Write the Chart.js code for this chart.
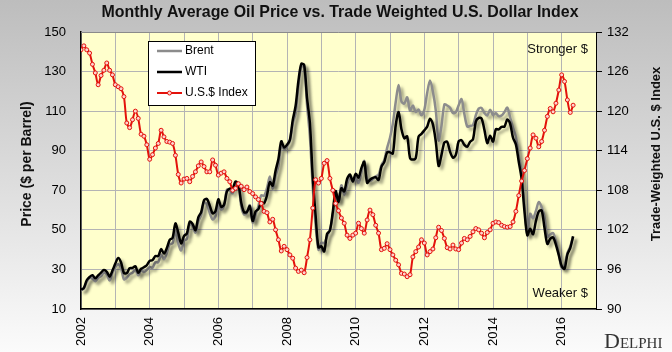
<!DOCTYPE html>
<html>
<head>
<meta charset="utf-8">
<script src="https://cdn.jsdelivr.net/npm/chart.js@4.4.1/dist/chart.umd.min.js"></script>
<style>
  html, body { margin: 0; padding: 0; background: #fff; }
  #wrap { width: 672px; height: 352px; }
</style>
</head>
<body>
<div id="wrap"><canvas id="oilChart" width="672" height="352"></canvas></div>
<script>
// months counted from Jan 2002, data runs to May 2016
const startYear = 2002;
const gridMonths = [0, 12, 24, 36, 48, 60, 72, 84, 96, 108, 120, 132, 144, 156, 168, 180];
const priceTicks = [10, 30, 50, 70, 90, 110, 130, 150];
const indexTicks = [90, 96, 102, 108, 114, 120, 126, 132];

const brent = [
  19.42, 20.28, 23.70, 25.73, 25.35, 24.08, 25.74, 26.65, 28.40, 27.54, 24.34, 28.33,
  31.18, 32.77, 30.61, 25.00, 25.86, 27.65, 28.35, 29.89, 27.11, 29.61, 28.75, 29.81,
  31.28, 30.86, 33.63, 33.59, 37.57, 35.18, 38.22, 42.74, 43.20, 49.78, 43.11, 39.60,
  44.51, 45.48, 53.10, 51.88, 48.65, 54.35, 57.52, 63.98, 62.91, 58.54, 55.24, 56.86,
  62.99, 60.21, 62.06, 70.26, 69.78, 68.56, 73.67, 73.23, 61.96, 57.81, 58.76, 62.47,
  53.68, 57.56, 62.05, 67.49, 67.21, 71.05, 76.93, 70.76, 77.17, 82.34, 92.41, 90.93,
  92.18, 94.99, 103.64, 109.07, 122.80, 132.32, 132.72, 113.24, 97.23, 71.58, 52.45, 39.95,
  43.44, 43.32, 46.54, 50.18, 57.30, 68.61, 64.44, 72.51, 67.65, 72.77, 76.66, 74.46,
  76.17, 73.75, 78.83, 84.82, 75.95, 74.76, 75.58, 77.04, 77.84, 82.67, 85.28, 91.45,
  96.52, 103.72, 114.64, 123.26, 114.99, 113.83, 116.97, 110.22, 112.83, 109.55, 110.77, 107.87,
  110.69, 119.33, 125.45, 119.75, 110.34, 95.16, 102.62, 113.36, 112.86, 111.71, 109.06, 109.49,
  112.96, 116.05, 108.47, 102.25, 102.56, 102.92, 107.93, 111.28, 111.60, 109.08, 107.79, 110.76,
  108.12, 108.90, 107.48, 107.76, 109.54, 111.80, 106.77, 101.61, 97.09, 87.43, 79.44, 62.34,
  47.76, 58.10, 55.89, 59.52, 64.08, 61.48, 56.56, 46.52, 47.62, 48.43, 44.27, 38.01,
  30.70, 32.18, 38.21, 41.58, 46.74
];

const wti = [
  19.71, 20.72, 24.53, 26.18, 27.04, 25.52, 26.97, 28.39, 29.66, 28.84, 26.35, 29.46,
  32.95, 35.83, 33.51, 28.17, 28.11, 30.66, 30.76, 31.57, 28.31, 30.34, 31.11, 32.13,
  34.31, 34.69, 36.74, 36.75, 40.28, 38.03, 40.78, 44.90, 45.94, 53.28, 48.47, 43.15,
  46.84, 48.15, 54.19, 52.98, 49.83, 56.35, 59.00, 64.99, 65.59, 62.26, 58.32, 59.41,
  65.49, 61.63, 62.69, 69.44, 70.84, 70.95, 74.41, 73.04, 63.80, 58.89, 59.08, 61.96,
  54.51, 59.28, 60.44, 63.98, 63.46, 67.49, 74.12, 72.36, 79.92, 85.80, 94.77, 91.69,
  92.97, 95.39, 105.45, 112.58, 125.40, 133.88, 133.37, 116.67, 104.11, 76.61, 57.31, 41.12,
  41.71, 39.09, 47.94, 49.65, 59.03, 69.64, 64.15, 71.05, 69.41, 75.72, 77.99, 74.47,
  78.33, 76.39, 81.20, 84.29, 73.74, 75.34, 76.32, 76.60, 75.24, 81.89, 84.25, 89.15,
  89.17, 88.58, 102.86, 109.53, 100.90, 96.26, 97.30, 86.33, 85.52, 86.32, 97.16, 98.56,
  100.27, 102.20, 106.16, 103.32, 94.66, 82.30, 87.90, 94.13, 94.51, 89.49, 86.53, 87.86,
  94.76, 95.31, 92.94, 92.02, 94.51, 95.77, 104.67, 106.57, 106.29, 100.54, 93.86, 97.63,
  94.62, 100.82, 100.80, 102.07, 102.18, 105.79, 103.59, 96.54, 93.21, 84.40, 75.79, 59.29,
  47.22, 50.58, 47.82, 54.45, 59.27, 59.82, 50.90, 42.87, 45.48, 46.22, 42.44, 37.19,
  31.68, 30.32, 37.55, 40.75, 46.71
];

const usdIndex = [
  129.3, 129.9, 129.3, 128.8, 127.1, 125.8, 124.0, 125.4, 126.2, 127.3, 126.2, 125.5,
  124.0, 123.7, 123.4, 122.2, 118.2, 117.5, 118.7, 120.0, 118.9, 116.5, 116.2, 114.9,
  112.7, 113.4, 114.4, 115.1, 117.1, 116.1, 115.4, 115.3, 115.1, 113.3, 110.4, 109.1,
  109.7, 109.8, 109.3, 110.1, 110.8, 111.7, 112.3, 111.6, 110.8, 110.8, 112.6, 111.8,
  110.3, 110.6, 110.8, 109.8, 109.3, 108.0, 108.3, 109.0, 108.6, 108.1, 108.5, 107.8,
  107.5, 107.0, 106.6, 106.0, 104.8, 104.6, 103.2, 103.6, 102.0, 100.5, 98.8, 99.5,
  99.0, 98.2, 97.7, 96.2, 95.7, 95.9, 95.5, 97.8, 100.5, 105.3, 109.6, 109.1,
  109.8, 112.1, 112.5, 109.8, 108.0, 106.0, 104.9, 103.8, 103.0, 101.2, 100.7, 101.2,
  101.5, 103.0, 102.2, 101.5, 103.5, 105.0, 104.3, 102.7, 101.5, 99.0, 99.2, 99.9,
  99.0, 98.2, 97.4, 96.7, 95.4, 95.3, 94.9, 95.2, 97.9, 98.7, 99.4, 100.5,
  100.0, 98.2, 98.7, 99.1, 100.8, 102.4, 101.9, 100.7, 99.3, 99.1, 99.7, 99.1,
  99.0, 100.0, 100.7, 100.5, 101.0, 101.7, 102.2, 102.0, 101.5, 100.8, 101.6, 102.0,
  103.0, 103.2, 103.1, 102.7, 102.5, 102.4, 102.5, 103.2, 104.8, 107.2, 109.4, 111.0,
  112.8, 114.4, 116.4, 115.9, 114.6, 115.4, 117.1, 119.2, 120.4, 119.9, 121.2, 123.2,
  125.5, 124.5, 121.7, 119.8, 120.9
];

const toPoints = (arr) => arr.map((v, i) => ({ x: i, y: v }));

const FONT = '"Liberation Sans", Arial, sans-serif';

// light drop shadow under the oil price lines
const shadowPlugin = {
  id: 'lineShadow',
  beforeDatasetDraw(chart, args) {
    const ds = chart.data.datasets[args.index];
    chart.ctx.save();
    if (ds.shadow) {
      chart.ctx.shadowColor = 'rgba(0,0,0,0.35)';
      chart.ctx.shadowBlur = 3;
      chart.ctx.shadowOffsetX = 3;
      chart.ctx.shadowOffsetY = 3;
    }
  },
  afterDatasetDraw(chart) {
    chart.ctx.restore();
  }
};

const decorPlugin = {
  id: 'decor',
  beforeDraw(chart) {
    const { ctx, width, height, chartArea: a } = chart;
    ctx.save();
    const g = ctx.createLinearGradient(0, 0, 0, height);
    g.addColorStop(0, '#bdbdbd');
    g.addColorStop(1, '#fbfbfb');
    ctx.fillStyle = g;
    ctx.fillRect(0, 0, width, height);
    ctx.fillStyle = '#ffffcc';
    ctx.fillRect(a.left, a.top, a.right - a.left, a.bottom - a.top);
    ctx.restore();
  },
  afterDraw(chart) {
    const { ctx, chartArea: a } = chart;
    ctx.save();

    // top edge of plot
    ctx.strokeStyle = '#8a8a8a';
    ctx.lineWidth = 1;
    ctx.beginPath();
    ctx.moveTo(a.left, a.top + 0.5);
    ctx.lineTo(a.right, a.top + 0.5);
    ctx.stroke();

    // title, squeezed a little like the original
    const title = 'Monthly Average Oil Price vs. Trade Weighted U.S. Dollar Index';
    ctx.font = 'bold 17px ' + FONT;
    const tw = ctx.measureText(title).width;
    ctx.save();
    ctx.translate(340, 17);
    ctx.scale(477 / tw, 1);
    ctx.fillStyle = '#111';
    ctx.textAlign = 'center';
    ctx.textBaseline = 'alphabetic';
    ctx.fillText(title, 0, 0);
    ctx.restore();

    // axis titles
    ctx.fillStyle = '#111';
    ctx.textAlign = 'center';
    ctx.textBaseline = 'middle';
    ctx.font = 'bold 14px ' + FONT;
    ctx.save();
    ctx.translate(27, 164);
    ctx.rotate(-Math.PI / 2);
    ctx.fillText('Price ($ per Barrel)', 0, 0);
    ctx.restore();
    ctx.font = 'bold 13px ' + FONT;
    ctx.save();
    ctx.translate(656, 154);
    ctx.rotate(-Math.PI / 2);
    ctx.fillText('Trade-Weighted U.S. $ Index', 0, 0);
    ctx.restore();

    // notes inside the plot
    ctx.font = '13px ' + FONT;
    ctx.textAlign = 'right';
    ctx.fillStyle = '#111';
    ctx.fillText('Stronger $', 588, 49);
    ctx.fillText('Weaker $', 588, 293);

    // legend box
    const lx = 148, ly = 41, lw = 107, lh = 64;
    ctx.fillStyle = '#ffffff';
    ctx.fillRect(lx, ly, lw, lh);
    ctx.strokeStyle = '#000';
    ctx.lineWidth = 1;
    ctx.strokeRect(lx + 0.5, ly + 0.5, lw, lh);
    const rows = [1, 2, 0];
    rows.forEach((di, r) => {
      const ds = chart.data.datasets[di];
      const y = 51 + r * 21;
      ctx.strokeStyle = ds.borderColor;
      ctx.lineWidth = ds.borderWidth;
      ctx.beginPath();
      ctx.moveTo(157, y);
      ctx.lineTo(182, y);
      ctx.stroke();
      if (ds.pointRadius > 0) {
        ctx.beginPath();
        ctx.arc(169.5, y, 2, 0, Math.PI * 2);
        ctx.fillStyle = ds.pointBackgroundColor;
        ctx.fill();
        ctx.lineWidth = 1;
        ctx.strokeStyle = ds.pointBorderColor;
        ctx.stroke();
      }
      ctx.fillStyle = '#000';
      ctx.font = '12px ' + FONT;
      ctx.textAlign = 'left';
      ctx.textBaseline = 'middle';
      ctx.fillText(ds.label, 185, y);
    });

    // company mark
    ctx.fillStyle = '#333';
    ctx.textAlign = 'left';
    ctx.textBaseline = 'alphabetic';
    ctx.font = '22px "Liberation Serif", "DejaVu Serif", serif';
    ctx.fillText('D', 604, 348);
    const dw = ctx.measureText('D').width;
    ctx.font = '15px "Liberation Serif", "DejaVu Serif", serif';
    ctx.fillText('ELPHI', 604 + dw, 348);

    ctx.restore();
  }
};

new Chart(document.getElementById('oilChart'), {
  type: 'line',
  data: {
    datasets: [
      {
        label: 'U.S.$ Index',
        data: toPoints(usdIndex),
        yAxisID: 'yIndex',
        borderColor: '#e3120b',
        borderWidth: 2,
        pointRadius: 2,
        pointBorderWidth: 1,
        pointBackgroundColor: '#ffd2cc',
        pointBorderColor: '#e3120b',
        tension: 0.3,
        order: 0
      },
      {
        label: 'Brent',
        data: toPoints(brent),
        yAxisID: 'yPrice',
        borderColor: '#8c8c8c',
        borderWidth: 2.5,
        pointRadius: 0,
        tension: 0.3,
        shadow: true,
        order: 2
      },
      {
        label: 'WTI',
        data: toPoints(wti),
        yAxisID: 'yPrice',
        borderColor: '#000000',
        borderWidth: 2.5,
        pointRadius: 0,
        tension: 0.3,
        shadow: true,
        order: 1
      }
    ]
  },
  options: {
    responsive: false,
    animation: false,
    events: [],
    layout: { padding: { top: 32, left: 0, right: 0, bottom: 0 } },
    plugins: {
      legend: { display: false },
      tooltip: { enabled: false },
      title: { display: false }
    },
    scales: {
      x: {
        type: 'linear',
        min: 0,
        max: 180,
        afterBuildTicks: (s) => { s.ticks = gridMonths.map((v) => ({ value: v })); },
        afterFit: (s) => { s.height = 43; },
        grid: { color: '#b4b4b4', lineWidth: 1, drawTicks: false },
        border: { color: '#000', width: 1.5 },
        ticks: {
          autoSkip: false,
          minRotation: 90,
          maxRotation: 90,
          padding: 8,
          color: '#000',
          font: { family: FONT, size: 13 },
          callback: (v) => (v % 24 === 0 ? String(startYear + v / 12) : '')
        }
      },
      yPrice: {
        position: 'left',
        min: 10,
        max: 150,
        afterBuildTicks: (s) => { s.ticks = priceTicks.map((v) => ({ value: v })); },
        afterFit: (s) => { s.width = 81; },
        grid: { color: '#b4b4b4', lineWidth: 1, drawTicks: false },
        border: { color: '#000', width: 1.5 },
        ticks: { padding: 15, color: '#000', font: { family: FONT, size: 13 } }
      },
      yIndex: {
        position: 'right',
        min: 90,
        max: 132,
        afterBuildTicks: (s) => { s.ticks = indexTicks.map((v) => ({ value: v })); },
        afterFit: (s) => { s.width = 76; },
        grid: { drawOnChartArea: false, drawTicks: true, tickLength: 6, color: '#000', tickColor: '#000' },
        border: { color: '#000', width: 1 },
        ticks: { padding: 5, color: '#000', font: { family: FONT, size: 13 } }
      }
    }
  },
  plugins: [shadowPlugin, decorPlugin]
});
</script>
</body>
</html>
